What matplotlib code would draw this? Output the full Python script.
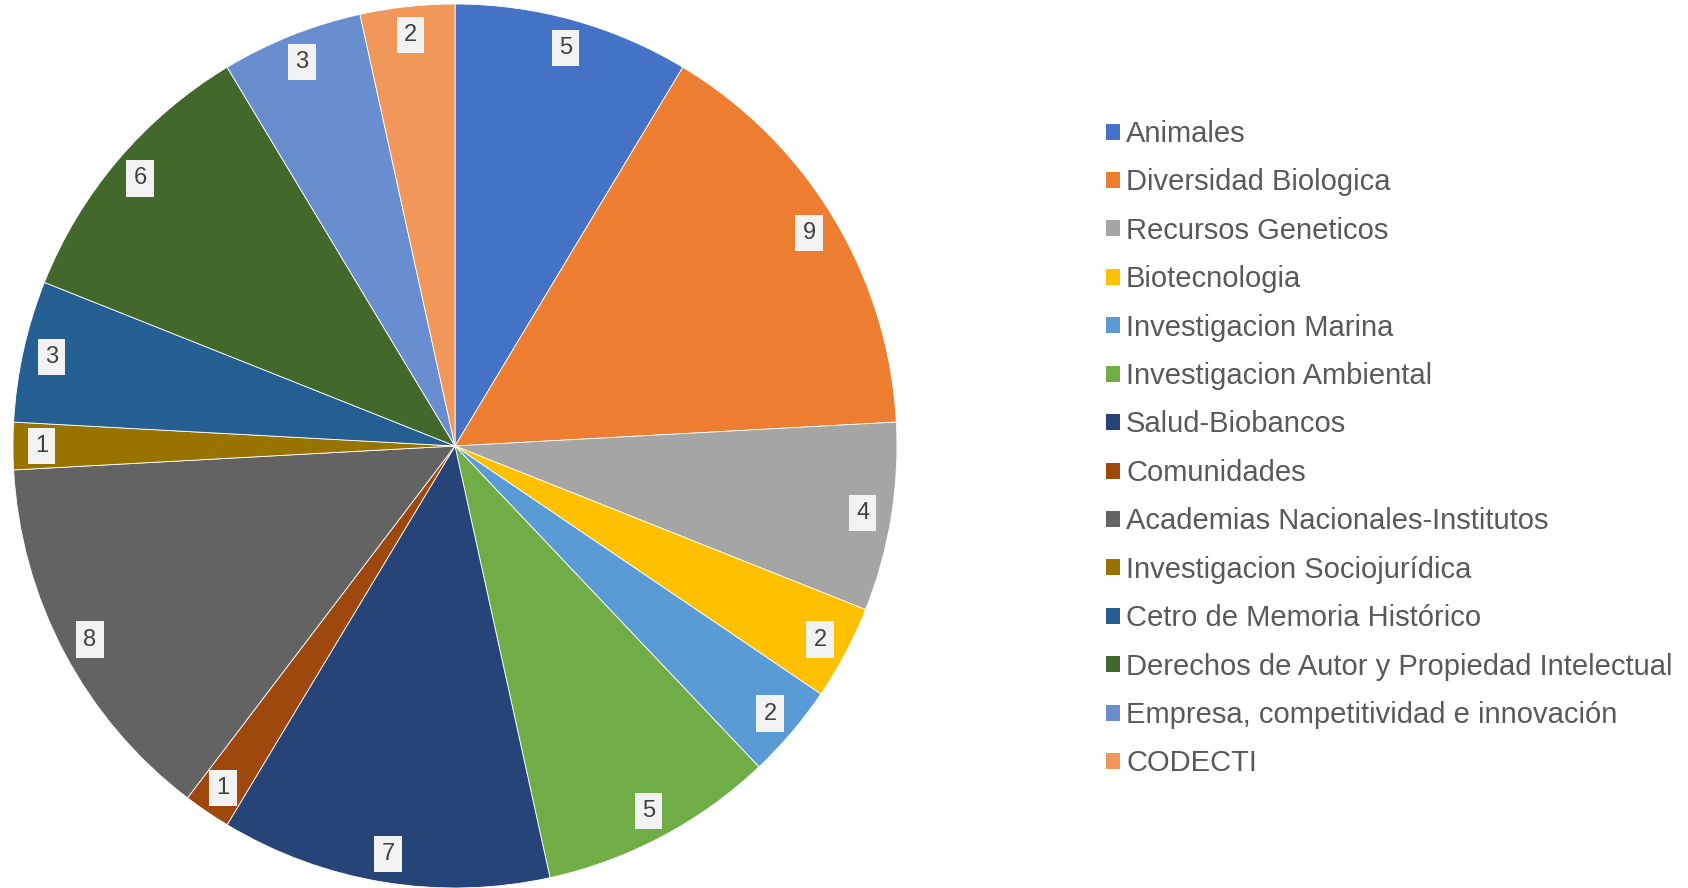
import matplotlib
matplotlib.use("Agg")
import matplotlib.pyplot as plt
from matplotlib.patches import Patch

plt.rcParams['font.family'] = ['Liberation Sans', 'DejaVu Sans']

# datos del grafico
categorias = ["Animales", "Diversidad Biologica", "Recursos Geneticos", "Biotecnologia",
              "Investigacion Marina", "Investigacion Ambiental", "Salud-Biobancos",
              "Comunidades", "Academias Nacionales-Institutos", "Investigacion Sociojurídica",
              "Cetro de Memoria Histórico", "Derechos de Autor y Propiedad Intelectual",
              "Empresa, competitividad e innovación", "CODECTI"]
valores = [5, 9, 4, 2, 2, 5, 7, 1, 8, 1, 3, 6, 3, 2]
colores = ["#4472C4", "#ED7D31", "#A5A5A5", "#FFC000", "#5B9BD5", "#70AD47", "#264478",
           "#9E480E", "#636363", "#997300", "#255E91", "#43682B", "#698ED0", "#F1975A"]

W, H = 1688, 888
fig = plt.figure(figsize=(W / 100, H / 100), dpi=100)

# eje del pastel, centrado en (455, 446) px con radio 442 px
cx, cy, r = 455, 446, 442
ax = fig.add_axes([(cx - r) / W, (H - cy - r) / H, 2 * r / W, 2 * r / H])

wedges, textos = ax.pie(valores, colors=colores, startangle=90, counterclock=False,
                        labels=[str(v) for v in valores], labeldistance=0.935,
                        wedgeprops=dict(edgecolor="white", linewidth=0.6),
                        textprops=dict(fontsize=17, color="#404040", ha="center",
                                       va="center"))
for t in textos:
    t.set_bbox(dict(boxstyle="square,pad=0.3", facecolor="#F2F2F2", edgecolor="none"))
ax.set_xlim(-1, 1)
ax.set_ylim(-1, 1)
ax.set_aspect("equal")
ax.axis("off")

# leyenda
handles = [Patch(facecolor=c, edgecolor="none") for c in colores]
leg = fig.legend(handles, categorias, loc="upper left", bbox_to_anchor=(1106 / W, 1 - 120 / H),
                 frameon=False, fontsize=21, labelcolor="#595959",
                 handlelength=0.47, handleheight=0.47, handletextpad=0.22,
                 labelspacing=0.70, borderpad=0, borderaxespad=0)

fig.savefig("out.png", dpi=100)
